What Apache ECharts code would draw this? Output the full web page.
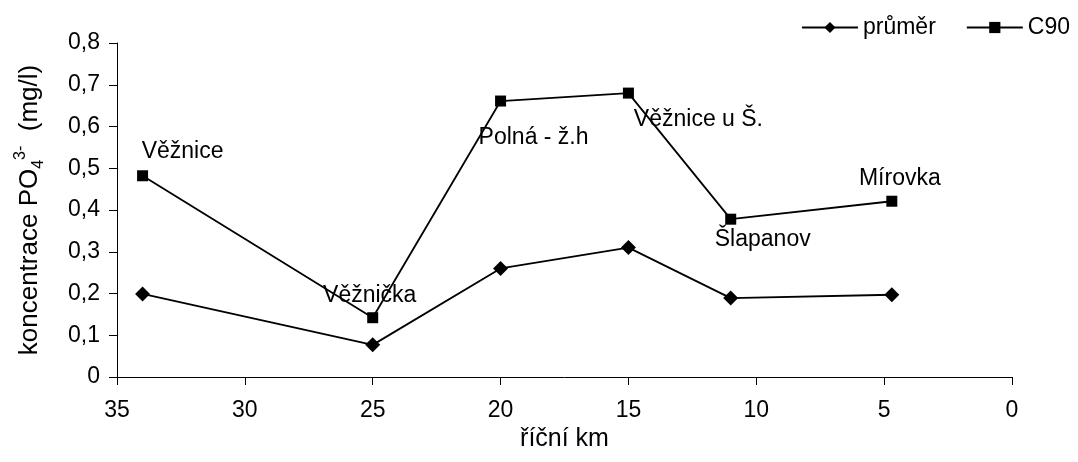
<!DOCTYPE html>
<html>
<head>
<meta charset="utf-8">
<script src="https://cdn.jsdelivr.net/npm/echarts@6/dist/echarts.min.js"></script>
<style>
html,body{margin:0;padding:0;background:#fff;}
#chart{width:1078px;height:462px;}
</style>
</head>
<body>
<div id="chart"></div>
<script>
// Data
const km = [34, 25, 20, 15, 11, 4.7];
const prumer = [0.199, 0.077, 0.260, 0.310, 0.189, 0.197];
const c90 = [0.482, 0.142, 0.661, 0.680, 0.378, 0.421];
const siteNames = ['Věžnice', 'Věžnička', 'Polná - ž.h', 'Věžnice u Š.', 'Šlapanov', 'Mírovka'];
const seriesNames = ['průměr', 'C90'];
const xTicks = [0, 35, 5];
const yTicks = [0, 0.8, 0.1];

// Label placement (style only)
const labelOffsets = [[40, -24], [-3, -22], [33, 37], [70, 27], [32, 20], [8, -23]];

const FONT = '"Liberation Sans", Arial, sans-serif';
const chart = echarts.init(document.getElementById('chart'));

const c90Data = km.map((k, i) => ({
  value: [k, c90[i]],
  label: {
    show: true,
    position: 'inside',
    offset: labelOffsets[i],
    formatter: siteNames[i],
    color: '#000',
    fontFamily: FONT,
    fontSize: 23
  }
}));

chart.setOption({
  animation: false,
  backgroundColor: '#fff',
  textStyle: { fontFamily: FONT, color: '#000' },
  grid: { left: 117, right: 66, top: 43, bottom: 85, containLabel: false },
  legend: {
    right: 3,
    top: 11,
    itemWidth: 56,
    itemHeight: 14,
    itemGap: 30,
    textStyle: { fontFamily: FONT, fontSize: 23, color: '#000' },
    data: seriesNames
  },
  xAxis: {
    type: 'value',
    inverse: true,
    min: xTicks[0],
    max: xTicks[1],
    interval: xTicks[2],
    name: 'říční km',
    nameLocation: 'middle',
    nameGap: 50,
    nameTextStyle: { fontFamily: FONT, fontSize: 25, color: '#000' },
    axisLine: { onZero: false, lineStyle: { color: '#000', width: 1 } },
    axisTick: { show: true, length: 8, inside: false, lineStyle: { color: '#000' } },
    axisLabel: { margin: 22, fontFamily: FONT, fontSize: 23, color: '#000' },
    splitLine: { show: false }
  },
  yAxis: {
    type: 'value',
    position: 'left',
    min: yTicks[0],
    max: yTicks[1],
    interval: yTicks[2],
    name: '{n|koncentrace PO}{sub|4}{sup|3-}{n|  (mg/l)}',
    nameLocation: 'middle',
    nameRotate: 90,
    nameGap: 70,
    nameTextStyle: {
      fontFamily: FONT, fontSize: 26, color: '#000',
      rich: {
        n: { fontFamily: FONT, fontSize: 26, color: '#000', lineHeight: 34, verticalAlign: 'middle' },
        sub: { fontFamily: FONT, fontSize: 16, color: '#000', lineHeight: 34, verticalAlign: 'bottom' },
        sup: { fontFamily: FONT, fontSize: 16, color: '#000', lineHeight: 34, verticalAlign: 'top' }
      }
    },
    axisLine: { show: true, onZero: false, lineStyle: { color: '#000', width: 1 } },
    axisTick: { show: true, length: 8, inside: false, lineStyle: { color: '#000' } },
    axisLabel: {
      margin: 17, fontFamily: FONT, fontSize: 23, color: '#000',
      formatter: v => (v === 0 ? '0' : v.toFixed(1).replace('.', ','))
    },
    splitLine: { show: false }
  },
  series: [
    {
      name: seriesNames[0],
      type: 'line',
      data: km.map((k, i) => [k, prumer[i]]),
      symbol: 'diamond',
      symbolSize: 15,
      showAllSymbol: true,
      lineStyle: { color: '#000', width: 1.8 },
      itemStyle: { color: '#000' }
    },
    {
      name: seriesNames[1],
      type: 'line',
      data: c90Data,
      symbol: 'rect',
      symbolSize: 11,
      showAllSymbol: true,
      lineStyle: { color: '#000', width: 1.8 },
      itemStyle: { color: '#000' }
    }
  ]
});
</script>
</body>
</html>
